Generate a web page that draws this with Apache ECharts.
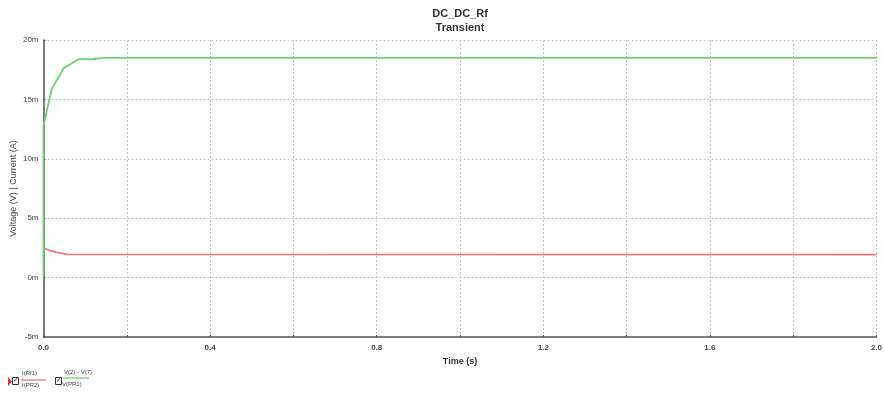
<!DOCTYPE html>
<html><head><meta charset="utf-8">
<script src="https://cdn.jsdelivr.net/npm/echarts@6/dist/echarts.min.js"></script>
<style>html,body{margin:0;padding:0;background:#fff}#c{width:884px;height:395px}</style>
</head><body><div id="c"></div>
<script>
// time (s), values in mV / mA
const greenT = [0, 0, 0.02, 0.048, 0.084, 0.12, 0.144, 2.0];
const greenV = [0, 12.8, 15.9, 17.6, 18.38, 18.4, 18.5, 18.5];
const redT = [0, 0.015, 0.032, 0.056, 2.0];
const redV = [2.5, 2.28, 2.12, 1.95, 1.93];
const xTicks = ['0.0', '0.4', '0.8', '1.2', '1.6', '2.0'];
const yUnit = 'm';

const chart = echarts.init(document.getElementById('c'));
const font = 'Liberation Sans, Arial, sans-serif';
chart.setOption({
  animation: false,
  title: {
    text: 'DC_DC_Rf', subtext: 'Transient', left: 455, textAlign: 'center', top: 3, itemGap: 3,
    textStyle: { fontSize: 11, fontWeight: 'bold', color: '#333', fontFamily: font },
    subtextStyle: { fontSize: 11, fontWeight: 'bold', color: '#333', fontFamily: font }
  },
  grid: { left: 43.5, right: 7.5, top: 40, bottom: 58, containLabel: false, outerBoundsMode: 'none' },
  xAxis: {
    type: 'value', min: 0, max: 2, interval: 0.2,
    name: 'Time (s)', nameLocation: 'middle', nameGap: 20,
    nameTextStyle: { fontSize: 9, color: '#333', fontFamily: font, fontWeight: 'bold' },
    axisLine: { onZero: false, lineStyle: { color: '#555', width: 1.5 } },
    axisTick: { show: true, length: 2, inside: true, lineStyle: { color: '#555' } },
    axisLabel: {
      fontSize: 8, color: '#444', fontFamily: font, fontWeight: 'bold', margin: 7,
      formatter: v => { const s = v.toFixed(1); return xTicks.includes(s) ? s : ''; }
    },
    splitLine: { show: true, lineStyle: { color: '#c4c4c4', type: [2, 2], width: 1 } }
  },
  yAxis: {
    type: 'value', min: -5, max: 20, interval: 5,
    name: 'Voltage (V) | Current (A)', nameLocation: 'middle', nameGap: 25, nameMoveOverlap: false,
    nameTextStyle: { fontSize: 9, color: '#444', fontFamily: font },
    axisLine: { show: true, onZero: false, lineStyle: { color: '#555', width: 1.5 } },
    axisTick: { show: true, length: 2, inside: true, lineStyle: { color: '#555' } },
    axisLabel: { fontSize: 8, color: '#444', fontFamily: font, margin: 5, formatter: v => v + yUnit },
    splitLine: { show: true, lineStyle: { color: '#c4c4c4', type: [2, 2], width: 1 } }
  },
  series: [
    { type: 'line', data: redT.map((t, i) => [t, redV[i]]), showSymbol: false,
      lineStyle: { color: '#f07878', width: 1.8 }, z: 2 },
    { type: 'line', data: greenT.map((t, i) => [t, greenV[i]]), showSymbol: false,
      lineStyle: { color: '#6ed26e', width: 1.8 }, z: 3 }
  ],
  graphic: [
    { type: 'polygon', shape: { points: [[8, 377], [8, 386], [12, 381.5]] }, style: { fill: '#d33' } },
    { type: 'rect', shape: { x: 12.5, y: 377.5, width: 6, height: 7 }, style: { fill: '#fff', stroke: '#333', lineWidth: 1 } },
    { type: 'text', x: 13, y: 377, style: { text: '✓', fontSize: 7, fill: '#333' } },
    { type: 'line', shape: { x1: 21, y1: 380, x2: 46, y2: 380 }, style: { stroke: '#f07878', lineWidth: 1.3 } },
    { type: 'text', x: 22, y: 370, style: { text: 'I(Rf1)', fontSize: 6, fill: '#444', fontFamily: font } },
    { type: 'text', x: 22, y: 382, style: { text: 'I(PR2)', fontSize: 6, fill: '#444', fontFamily: font } },
    { type: 'rect', shape: { x: 55.5, y: 377.5, width: 6, height: 7 }, style: { fill: '#fff', stroke: '#333', lineWidth: 1 } },
    { type: 'text', x: 56, y: 377, style: { text: '✓', fontSize: 7, fill: '#333' } },
    { type: 'line', shape: { x1: 63, y1: 378, x2: 89, y2: 378 }, style: { stroke: '#6ed26e', lineWidth: 1.3 } },
    { type: 'text', x: 64, y: 369, style: { text: 'V(2) - V(7)', fontSize: 6, fill: '#444', fontFamily: font } },
    { type: 'text', x: 62, y: 381, style: { text: 'V(PR1)', fontSize: 6, fill: '#444', fontFamily: font } }
  ]
});
</script></body></html>
